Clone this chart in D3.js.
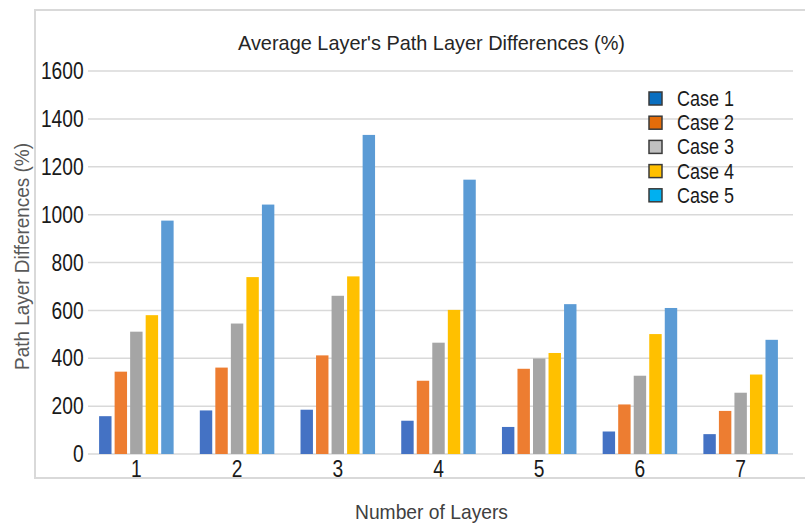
<!DOCTYPE html>
<html>
<head>
<meta charset="utf-8">
<script src="https://cdn.jsdelivr.net/npm/d3@7"></script>
<style>
  html, body { margin: 0; padding: 0; background: #fff; }
  text { font-family: "Liberation Sans", Arial, sans-serif; }
</style>
</head>
<body>
<div id="chart"></div>
<script>
const layers = ["1", "2", "3", "4", "5", "6", "7"];
const cases = ["Case 1", "Case 2", "Case 3", "Case 4", "Case 5"];
const case1 = [158, 182, 185, 139, 113, 94, 83];
const case2 = [344, 361, 412, 306, 356, 207, 180];
const case3 = [511, 545, 661, 465, 399, 327, 256];
const case4 = [580, 739, 742, 602, 422, 501, 332];
const case5 = [975, 1042, 1333, 1146, 626, 610, 477];
const yTicks = [0, 200, 400, 600, 800, 1000, 1200, 1400, 1600];

const barColors = ["#4472c4", "#ed7d31", "#a5a5a5", "#ffc000", "#5b9bd5"];
const legendColors = ["#0a6fc0", "#e36c0a", "#c0c0c0", "#ffc000", "#00b0f0"];

const width = 805, height = 525;
const seriesVals = [case1, case2, case3, case4, case5];
// the original uses a condensed face, squeeze text horizontally
const narrow = 0.8;

const svg = d3.select("#chart").append("svg")
    .attr("width", width)
    .attr("height", height);

// outer frame (runs off the right edge like the original)
svg.append("rect")
    .attr("x", 35).attr("y", 10)
    .attr("width", 790).attr("height", 468)
    .attr("fill", "none")
    .attr("stroke", "#d9d9d9")
    .attr("stroke-width", 2);

const x0 = d3.scaleBand()
    .domain(layers)
    .range([86, 791])
    .paddingInner(0.26)
    .paddingOuter(0.13);

const x1 = d3.scaleBand()
    .domain(cases)
    .range([0, x0.bandwidth()])
    .paddingInner(0.2);

const y = d3.scaleLinear()
    .domain([0, 1600])
    .range([454, 71]);

// gridlines
svg.append("g")
    .selectAll("line")
    .data(yTicks)
    .enter()
    .append("line")
    .attr("x1", 88).attr("x2", 793)
    .attr("y1", d => y(d)).attr("y2", d => y(d))
    .attr("stroke", "#d9d9d9")
    .attr("stroke-width", 1.5);

// y axis labels
const yAxis = d3.axisLeft(y)
    .tickValues(yTicks)
    .tickFormat(d3.format("d"))
    .tickSize(0)
    .tickPadding(3);
svg.append("g")
    .attr("transform", "translate(86,0)")
    .call(yAxis)
    .call(g => g.select(".domain").remove())
    .selectAll("text")
    .attr("font-family", null)
    .attr("font-size", "24px")
    .attr("fill", "#1a1a1a")
    .attr("transform", `scale(${narrow},1)`);

// x axis labels
const xAxis = d3.axisBottom(x0).tickSize(0).tickPadding(5);
svg.append("g")
    .attr("transform", "translate(0,455)")
    .call(xAxis)
    .call(g => g.select(".domain").remove())
    .selectAll("text")
    .attr("font-family", null)
    .attr("font-size", "24px")
    .attr("fill", "#1a1a1a")
    .attr("transform", `scale(${narrow},1)`);

// bars
const groups = svg.append("g")
    .selectAll("g")
    .data(layers)
    .enter()
    .append("g")
    .attr("transform", d => `translate(${x0(d)},0)`);

groups.selectAll("rect")
    .data((d, i) => cases.map((c, j) => ({ c, j, v: seriesVals[j][i] })))
    .enter()
    .append("rect")
    .attr("x", d => x1(d.c))
    .attr("y", d => y(d.v))
    .attr("width", x1.bandwidth())
    .attr("height", d => y(0) - y(d.v))
    .attr("fill", d => barColors[d.j]);

// title
svg.append("text")
    .attr("x", 238).attr("y", 50)
    .attr("font-size", "21px")
    .attr("fill", "#262626")
    .attr("textLength", 387)
    .attr("lengthAdjust", "spacingAndGlyphs")
    .text("Average Layer's Path Layer Differences (%)");

// axis titles
svg.append("text")
    .attr("transform", "translate(29,370) rotate(-90)")
    .attr("font-size", "21px")
    .attr("fill", "#595959")
    .attr("textLength", 227)
    .attr("lengthAdjust", "spacingAndGlyphs")
    .text("Path Layer Differences (%)");

svg.append("text")
    .attr("x", 355).attr("y", 519)
    .attr("font-size", "21px")
    .attr("fill", "#404040")
    .attr("textLength", 153)
    .attr("lengthAdjust", "spacingAndGlyphs")
    .text("Number of Layers");

// legend
const legend = svg.append("g")
    .selectAll("g")
    .data(cases)
    .enter()
    .append("g")
    .attr("transform", (d, i) => `translate(649,${92 + i * 24.2})`);

legend.append("rect")
    .attr("width", 13).attr("height", 13)
    .attr("fill", (d, i) => legendColors[i])
    .attr("stroke", "#3a3a3a")
    .attr("stroke-width", 1.5);

legend.append("text")
    .attr("x", 28).attr("y", 14)
    .attr("font-size", "22px")
    .attr("fill", "#1a1a1a")
    .attr("textLength", 57)
    .attr("lengthAdjust", "spacingAndGlyphs")
    .text(d => d);
</script>
</body>
</html>
